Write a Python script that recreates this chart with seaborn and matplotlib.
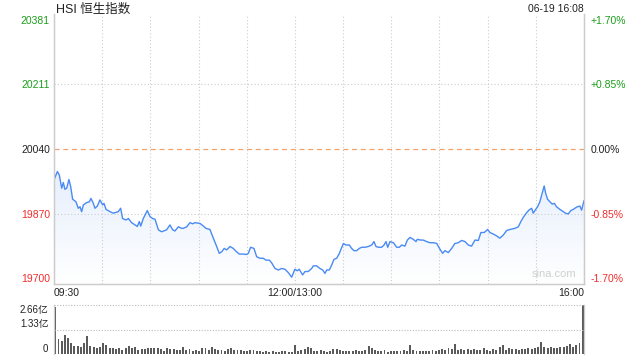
import matplotlib
matplotlib.use("Agg")
import matplotlib.pyplot as plt
from matplotlib.colors import LinearSegmentedColormap
import numpy as np
import pandas as pd
import seaborn as sns

# trading minutes since 09:30 (12:00 and 13:00 fall together at minute 150)
minutos = [0, 2.1, 3.3, 4.8, 5.8, 6.8, 7.9, 9.3, 10.4, 11.6, 13.7, 15.1, 16.2, 17.2, 18.3,
           20.3, 22.0, 23.0, 24.5, 25.5, 27.0, 28.6, 30.3, 31.1, 32.4, 34.9, 36.9, 40.0,
           41.5, 42.7, 44.8, 46.3, 48.3, 50.4, 51.9, 53.1, 54.0, 55.6, 58.1, 59.8, 61.4,
           62.9, 65.0, 67.0, 70.1, 72.2, 73.9, 75.3, 77.4, 79.5, 80.5, 82.6, 84.7, 86.3,
           87.8, 90.9, 93.0, 94.6, 97.1, 99.2, 101.3, 102.9, 104.4, 106.0, 107.5, 109.6,
           111.6, 113.7, 115.4, 117.9, 119.9, 121.0, 122.4, 124.5, 126.2, 128.2, 130.3,
           132.0, 134.1, 135.5, 137.6, 139.7, 141.7, 143.8, 145.9, 148.0, 150.0, 151.5,
           152.7, 154.8, 156.3, 158.3, 160.4, 161.5, 163.5, 165.6, 167.3, 168.7, 169.8,
           171.4, 172.9, 174.3, 176.0, 177.7, 178.5, 180.2, 181.8, 183.9, 185.3, 186.8,
           188.4, 190.1, 191.6, 193.6, 195.7, 197.8, 199.2, 200.5, 202.0, 204.0, 205.5,
           206.7, 207.8, 209.2, 211.3, 213.4, 215.0, 216.5, 218.5, 220.0, 221.7, 223.7,
           225.4, 226.2, 228.3, 230.0, 232.0, 234.1, 236.6, 238.3, 240.3, 242.0, 243.4,
           245.5, 247.6, 249.6, 251.7, 253.8, 255.9, 257.9, 260.0, 262.1, 264.2, 265.8,
           267.9, 270.0, 271.4, 273.5, 275.6, 277.6, 279.7, 281.8, 283.9, 287.0, 289.1,
           290.7, 292.2, 294.2, 295.7, 297.4, 298.4, 299.4, 301.1, 302.5, 304.0, 305.2,
           306.1, 307.3, 308.8, 310.2, 311.5, 312.9, 315.0, 317.1, 318.5, 320.2, 321.8,
           323.3, 325.4, 327.4, 328.5, 330.0]
precos = [19959, 19981, 19972, 19937, 19952, 19934, 19937, 19960, 19941, 19908, 19901, 19884,
          19888, 19875, 19893, 19899, 19901, 19910, 19897, 19884, 19890, 19906, 19893, 19897,
          19881, 19875, 19871, 19875, 19884, 19857, 19853, 19857, 19846, 19840, 19836, 19849,
          19837, 19857, 19878, 19862, 19857, 19855, 19827, 19822, 19827, 19840, 19827, 19824,
          19835, 19831, 19831, 19835, 19846, 19843, 19846, 19844, 19837, 19831, 19828, 19805,
          19783, 19765, 19769, 19778, 19774, 19783, 19778, 19769, 19763, 19763, 19762, 19765,
          19781, 19778, 19756, 19752, 19752, 19747, 19747, 19740, 19725, 19721, 19725, 19723,
          19714, 19702, 19723, 19719, 19723, 19708, 19717, 19717, 19725, 19732, 19732, 19725,
          19721, 19712, 19721, 19721, 19734, 19749, 19752, 19765, 19774, 19791, 19787, 19787,
          19778, 19772, 19772, 19778, 19781, 19781, 19783, 19787, 19796, 19783, 19781, 19781,
          19787, 19796, 19781, 19796, 19793, 19781, 19781, 19787, 19784, 19800, 19807, 19802,
          19796, 19802, 19800, 19800, 19796, 19793, 19793, 19791, 19776, 19765, 19772, 19767,
          19778, 19791, 19793, 19799, 19796, 19787, 19784, 19800, 19799, 19820, 19820, 19828,
          19820, 19816, 19811, 19805, 19813, 19825, 19828, 19831, 19835, 19849, 19860, 19872,
          19879, 19884, 19871, 19878, 19888, 19901, 19924, 19943, 19924, 19908, 19901, 19895,
          19897, 19888, 19881, 19875, 19871, 19869, 19878, 19881, 19887, 19890, 19879, 19904]

# volume in 亿, one bar every 2 trading minutes
volume_min = list(range(0, 331, 2))
volume = [2.55, 0.80, 0.68, 1.05, 0.85, 0.58, 0.44, 0.45, 0.36, 0.62, 0.98, 0.42, 0.36, 0.30,
          0.40, 0.62, 0.48, 0.34, 0.30, 0.28, 0.33, 0.24, 0.30, 0.46, 0.32, 0.36, 0.22, 0.28,
          0.27, 0.30, 0.32, 0.34, 0.30, 0.25, 0.18, 0.32, 0.26, 0.28, 0.24, 0.22, 0.38, 0.20,
          0.26, 0.18, 0.22, 0.16, 0.30, 0.34, 0.22, 0.36, 0.28, 0.20, 0.22, 0.18, 0.26, 0.30,
          0.24, 0.22, 0.20, 0.16, 0.15, 0.20, 0.24, 0.14, 0.16, 0.12, 0.15, 0.12, 0.14, 0.13,
          0.12, 0.15, 0.14, 0.13, 0.12, 0.50, 0.18, 0.22, 0.25, 0.40, 0.30, 0.18, 0.14, 0.20,
          0.16, 0.12, 0.18, 0.26, 0.28, 0.22, 0.16, 0.18, 0.15, 0.16, 0.20, 0.18, 0.14, 0.20,
          0.45, 0.32, 0.20, 0.18, 0.16, 0.24, 0.12, 0.14, 0.16, 0.14, 0.18, 0.22, 0.16, 0.50,
          0.20, 0.16, 0.14, 0.18, 0.16, 0.15, 0.20, 0.18, 0.22, 0.26, 0.24, 0.30, 0.26, 0.55,
          0.24, 0.28, 0.20, 0.26, 0.22, 0.28, 0.20, 0.24, 0.30, 0.22, 0.18, 0.26, 0.24, 0.36,
          0.48, 0.22, 0.30, 0.26, 0.28, 0.24, 0.26, 0.28, 0.30, 0.26, 0.34, 0.40, 0.64, 0.40,
          0.32, 0.36, 0.30, 0.34, 0.40, 0.36, 0.42, 0.56, 0.40, 0.50, 0.60, 2.66]

fecho_anterior = 20040
niveis = [20381, 20211, 20040, 19870, 19700]
percentuais = ["+1.70%", "+0.85%", "0.00%", "-0.85%", "-1.70%"]
cores_niveis = ["#1a9e1a", "#1a9e1a", "#222222", "#f02c2c", "#f02c2c"]
vol_ticks = [2.66, 1.33, 0]
vol_labels = ["2.66亿", "1.33亿", "0"]

sns.set_theme(style="white")
plt.rcParams['font.family'] = ['Liberation Sans', 'Noto Sans CJK SC', 'DejaVu Sans']

fig = plt.figure(figsize=(6.4, 3.6), dpi=100)
ax = fig.add_axes([54 / 640, 1 - 284 / 360, 530 / 640, 270 / 360])
axv = fig.add_axes([54 / 640, 1 - 354 / 360, 530 / 640, 49 / 360])

df = pd.DataFrame({"min": minutos, "preco": precos})
azul = "#4a8af4"
y_min, y_max = 19684, 20397

# faint gradient under the line
area = ax.fill_between(df["min"], df["preco"], y_min, color="none", lw=0)
grad = LinearSegmentedColormap.from_list("g", ["#ffffff", "#e6effd"])
img = ax.imshow(np.linspace(0, 1, 100).reshape(-1, 1), cmap=grad, aspect="auto",
                origin="lower", extent=[0, 330, y_min, max(precos)], zorder=1)
img.set_clip_path(area.get_paths()[0], transform=ax.transData)

sns.lineplot(data=df, x="min", y="preco", ax=ax, color=azul, lw=1.0, zorder=3)

ax.set_xlim(0, 330)
ax.set_ylim(y_min, y_max)
ax.axhline(fecho_anterior, color="#f4a46a", ls=(0, (4, 3)), lw=0.9)
for nv in [20211, 19870]:
    ax.axhline(nv, color="#cccccc", ls=(0, (1, 2)), lw=0.8)
for m in range(30, 330, 30):
    ax.axvline(m, color="#cccccc", ls=(0, (1, 2)), lw=0.8)

ax.set_yticks(niveis)
ax.set_yticklabels([str(n) for n in niveis], fontsize=7.5)
for lbl, c in zip(ax.get_yticklabels(), cores_niveis):
    lbl.set_color(c)
ax.set_xticks([0, 150, 330])
ax.set_xticklabels(["09:30", "12:00/13:00", "16:00"], fontsize=7.5, color="#222222")
xl = ax.get_xticklabels()
xl[0].set_ha("left")
xl[2].set_ha("right")
ax.tick_params(axis="y", length=0, pad=3)
ax.tick_params(axis="x", length=0, pad=3)
ax.set_xlabel("")
ax.set_ylabel("")

ax2 = ax.twinx()
ax2.set_ylim(ax.get_ylim())
ax2.set_yticks(niveis)
ax2.set_yticklabels(percentuais, fontsize=7.5)
for lbl, c in zip(ax2.get_yticklabels(), cores_niveis):
    lbl.set_color(c)
ax2.tick_params(axis="y", length=0, pad=5)

for a in (ax, ax2):
    a.spines["top"].set_visible(False)
    for s in ("left", "right", "bottom"):
        a.spines[s].set_color("#cccccc")
        a.spines[s].set_linewidth(0.9)

ax.text(0.004, 1.005, "HSI 恒生指数", transform=ax.transAxes, fontsize=9,
        ha="left", va="baseline", color="#222222")
ax.text(1.0, 1.007, "06-19 16:08", transform=ax.transAxes, fontsize=7.5,
        ha="right", va="baseline", color="#222222")
ax.text(0.985, 0.02, "sina.com", transform=ax.transAxes, fontsize=8,
        ha="right", va="bottom", color="#d0d0d0")

# volume panel
axv.bar(volume_min, volume, width=1.2, color="#5a5a5a", lw=0)
axv.set_xlim(-0.8, 330.8)
axv.set_ylim(0, 2.66)
for v in [2.66, 1.33]:
    axv.axhline(v, color="#bbbbbb", ls=(0, (1, 1.5)), lw=0.8, clip_on=False)
axv.set_xticks([])
axv.set_yticks(vol_ticks)
axv.set_yticklabels(vol_labels, fontsize=7, color="#222222")
vas = ["top", "bottom", "bottom"]
for lbl, va in zip(axv.get_yticklabels(), vas):
    lbl.set_va(va)
axv.tick_params(axis="y", length=0, pad=4)
axv.spines["top"].set_visible(False)
axv.spines["bottom"].set_visible(False)
for s in ("left", "right"):
    axv.spines[s].set_color("#cccccc")
    axv.spines[s].set_linewidth(0.9)

fig.savefig("out.png", dpi=100)
